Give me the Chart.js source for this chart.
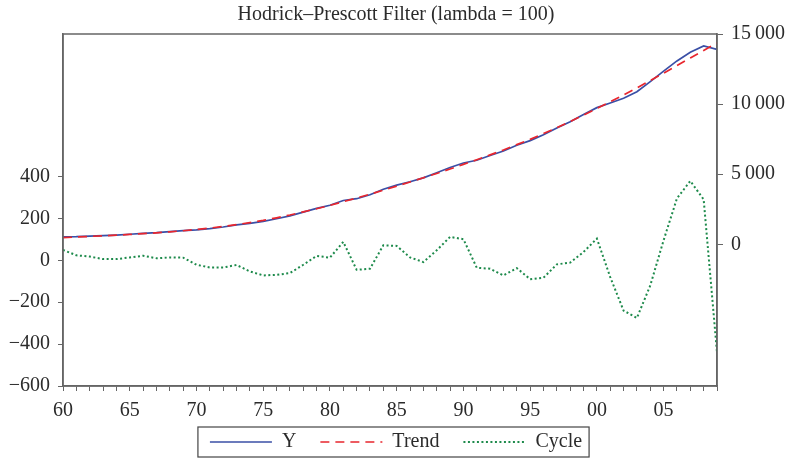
<!DOCTYPE html>
<html>
<head>
<meta charset="utf-8">
<script src="https://cdn.jsdelivr.net/npm/chart.js@4.4.1/dist/chart.umd.min.js"></script>
<style>
html,body{margin:0;padding:0;background:#fff;}
#wrap{width:792px;height:460px;position:relative;}
</style>
</head>
<body>
<div id="wrap"><canvas id="c" width="792" height="460"></canvas></div>
<script>
const years = [1960,1961,1962,1963,1964,1965,1966,1967,1968,1969,1970,1971,1972,1973,1974,1975,1976,1977,1978,1979,1980,1981,1982,1983,1984,1985,1986,1987,1988,1989,1990,1991,1992,1993,1994,1995,1996,1997,1998,1999,2000,2001,2002,2003,2004,2005,2006,2007,2008,2009];
const yValues = [530,545,585,618,664,719,788,833,910,985,1039,1127,1238,1383,1500,1638,1825,2031,2295,2563,2790,3128,3255,3537,3933,4220,4463,4740,5104,5484,5803,5996,6338,6657,7072,7398,7817,8304,8747,9268,9750,10080,10420,10880,11600,12350,13080,13700,14150,13900];
const trendValues = [480,521,567,612,658,705,766,823,896,972,1060,1161,1272,1405,1553,1710,1894,2092,2316,2542,2777,3040,3300,3577,3861,4151,4449,4748,5056,5372,5702,6031,6378,6729,7109,7488,7900,8323,8760,9220,9690,10170,10660,11160,11680,12210,12750,13290,13830,14360];
const cycleValues = [50,24,18,6,6,14,22,10,14,13,-21,-34,-34,-22,-53,-72,-69,-61,-21,21,13,88,-45,-40,72,69,14,-8,48,112,101,-35,-40,-72,-37,-90,-83,-19,-11,40,104,-80,-240,-275,-120,96,296,379,291,-440];
const xTickYears = [1960,1965,1970,1975,1980,1985,1990,1995,2000,2005];
const xTickLabels = ['60','65','70','75','80','85','90','95','00','05'];
const leftTicks = [-600,-400,-200,0,200,400];
const rightTicks = [0,5000,10000,15000];
const seriesNames = ['Y','Trend','Cycle'];
const titleText = 'Hodrick\u2013Prescott Filter (lambda = 100)';

const FONT = "'Liberation Serif', 'DejaVu Serif', serif";
const TXT = '#2b2b2b';
const AX = '#666';

// do not clip tick labels to the scale box
Chart.LinearScale.prototype._computeLabelArea = function(){ return undefined; };

const pts = vals => years.map((x,i)=>({x:x, y:vals[i]}));

const framePlugin = {
  id:'frame',
  afterDraw(chart){
    const ctx = chart.ctx, a = chart.chartArea;
    ctx.save();
    ctx.strokeStyle = AX; ctx.lineWidth = 1.5;
    ctx.strokeRect(a.left, a.top, a.right-a.left, a.bottom-a.top);
    const lg = chart.legend;
    if (lg && lg.legendHitBoxes && lg.legendHitBoxes.length){
      const hb = lg.legendHitBoxes;
      const l = Math.min(...hb.map(h=>h.left)) - 12;
      const r = Math.max(...hb.map(h=>h.left+h.width)) + 7;
      const t = Math.min(...hb.map(h=>h.top)) - 5;
      const b = Math.max(...hb.map(h=>h.top+h.height)) + 5;
      ctx.strokeStyle = '#444'; ctx.lineWidth = 1.2;
      ctx.strokeRect(l, t, r-l, b-t);
    }
    ctx.restore();
  }
};

new Chart(document.getElementById('c'), {
  type:'line',
  data:{
    datasets:[
      {label:seriesNames[0], data:pts(yValues), yAxisID:'yR', borderColor:'#3a4fa6', backgroundColor:'#3a4fa6', borderWidth:1.7, pointRadius:0, order:2},
      {label:seriesNames[1], data:pts(trendValues), yAxisID:'yR', borderColor:'#e8262e', backgroundColor:'#e8262e', borderWidth:1.7, borderDash:[9,6], pointRadius:0, order:1},
      {label:seriesNames[2], data:pts(cycleValues), yAxisID:'yL', borderColor:'#1d8a4b', backgroundColor:'#1d8a4b', borderWidth:2, borderDash:[2,2.5], pointRadius:0, order:0}
    ]
  },
  options:{
    responsive:false,
    animation:false,
    layout:{padding:{left:0,right:0,top:0,bottom:-2}},
    plugins:{
      tooltip:{enabled:false},
      title:{display:true, text:titleText, color:TXT, font:{family:FONT, size:20, weight:'normal'}, padding:{top:3,bottom:7}},
      legend:{
        position:'bottom',
        labels:{
          usePointStyle:true, pointStyle:'line', pointStyleWidth:62, boxHeight:20,
          color:TXT, font:{family:FONT, size:20}, padding:24,
          sort:(a,b)=>a.datasetIndex-b.datasetIndex,
          generateLabels(chart){
            const items = Chart.defaults.plugins.legend.labels.generateLabels(chart);
            items.forEach(it=>{
              const ds = chart.data.datasets[it.datasetIndex];
              it.lineDash = ds.borderDash || [];
              it.lineWidth = ds.borderWidth;
              it.strokeStyle = ds.borderColor;
              it.fillStyle = ds.borderColor;
              it.pointStyle = 'line';
            });
            return items;
          }
        }
      }
    },
    scales:{
      x:{
        type:'linear', min:1960, max:2009,
        afterBuildTicks(s){ s.ticks = years.map(v=>({value:v})); },
        ticks:{autoSkip:false, maxRotation:0, color:TXT, font:{family:FONT,size:20}, padding:8,
          callback:(v)=>{const i = xTickYears.indexOf(v); return i>=0 ? xTickLabels[i] : '';}},
        grid:{drawOnChartArea:false, tickLength:5, color:AX, lineWidth:1},
        border:{display:true, color:AX, width:1.5},
        afterFit(s){ s.height = 22; }
      },
      yL:{
        position:'left', min:-600, max:1081,
        afterBuildTicks(s){ s.ticks = leftTicks.map(v=>({value:v})); },
        ticks:{color:TXT, font:{family:FONT,size:20}, padding:8, callback:(v)=>String(v).replace('-','\u2212')},
        grid:{drawOnChartArea:false, tickLength:5, color:AX},
        border:{display:true, color:AX, width:1.5},
        afterFit(s){ s.width = 63; }
      },
      yR:{
        position:'right', min:-10100, max:15000,
        afterBuildTicks(s){ s.ticks = rightTicks.map(v=>({value:v})); },
        ticks:{color:TXT, font:{family:FONT,size:20}, padding:8, callback:(v)=> v>=1000 ? String(Math.floor(v/1000))+'\u2009'+String(v%1000).padStart(3,'0') : String(v)},
        grid:{drawOnChartArea:false, tickLength:6, color:AX},
        border:{display:true, color:AX, width:1.5},
        afterFit(s){ s.width = 75; }
      }
    }
  },
  plugins:[framePlugin]
});
</script>
</body>
</html>
